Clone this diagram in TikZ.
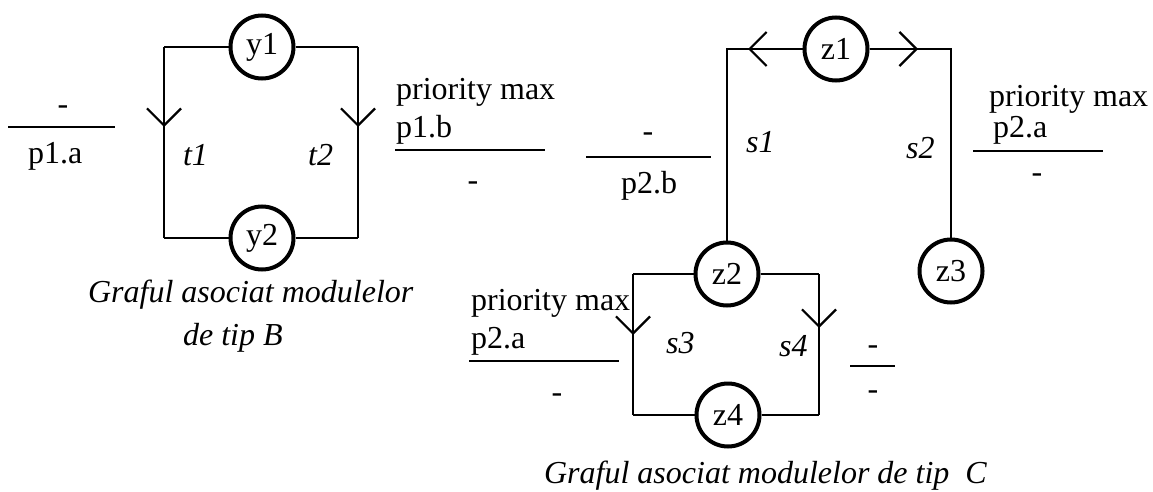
\documentclass[tikz,border=0pt]{standalone}
\usepackage{fontspec}
\setmainfont{Liberation Serif}
\usetikzlibrary{arrows.meta}

\tikzset{every picture/.style={line width=2.2pt}}
\tikzset{
  vtx/.style={draw,circle,line width=4pt,minimum size=63pt,inner sep=0pt,fill=white,font=\fontsize{32}{38}\selectfont},
  edge/.style={line width=2.2pt},
  barb/.style={line width=2.2pt,-{Straight Barb[length=17pt,width=34pt]}},
  bar/.style={line width=2.6pt},
  lbl/.style={anchor=base,inner sep=0pt,font=\fontsize{32}{38}\selectfont},
  lblw/.style={anchor=base west,inner sep=0pt,font=\fontsize{32}{38}\selectfont},
}

\begin{document}
\begin{tikzpicture}[x=1pt,y=1pt,yscale=-1,xscale=1]
\useasboundingbox (0,0) rectangle (1153,492);

%Shape: Graph B
\coordinate (b1) at (164,47);
\coordinate (b2) at (164,238);
\coordinate (b3) at (358,47);
\coordinate (b4) at (358,238);
\coordinate (t1m) at (164,127);
\coordinate (t2m) at (358,127);
\draw[edge] (b1) -- (b2);
\draw[edge] (b3) -- (b4);
\node[vtx] (y1) at (262,47) {y1};
\node[vtx] (y2) at (262,238) {y2};
\draw[edge] (y1) -- (b1);
\draw[edge] (y1) -- (b3);
\draw[edge] (y2) -- (b2);
\draw[edge] (y2) -- (b4);
\draw[barb] (b1) -- (t1m);
\draw[barb] (b3) -- (t2m);

% Text Node
\node[lblw] (t1) at (182,165) {\textit{t1}};
% Text Node
\node[lblw] (t2) at (307,165) {\textit{t2}};

%Shape: fraction left of B
\coordinate (fa1) at (8,127);
\coordinate (fa2) at (115,127);
\draw[bar] (fa1) -- (fa2);
% Text Node
\node[lbl] (fa3) at (63,114) {-};
% Text Node
\node[lblw] (fa4) at (27,163) {p1.a};

%Shape: fraction right of B
\coordinate (fb1) at (395,150);
\coordinate (fb2) at (545,150);
\draw[bar] (fb1) -- (fb2);
% Text Node
\node[lblw] (fb3) at (395,100) {priority max};
% Text Node
\node[lblw] (fb4) at (395,138) {p1.b};
% Text Node
\node[lbl] (fb5) at (473,190) {-};

% Text Node
\node[lblw] (capb1) at (87,302) {\textit{Graful asociat modulelor}};
% Text Node
\node[lblw] (capb2) at (182,345) {\textit{de tip B}};

%Shape: Graph C, upper part
\coordinate (c1) at (727,49);
\coordinate (c2) at (951,49);
\coordinate (s1m) at (748,49);
\coordinate (s2m) at (918,49);
\node[vtx] (z1) at (836,49) {z1};
\node[vtx] (z2) at (727,274) {z2};
\node[vtx] (z3) at (951,271) {z3};
\draw[edge] (z1) -- (c1) -- (z2);
\draw[edge] (z1) -- (c2) -- (z3);
\draw[barb] (z1) -- (s1m);
\draw[barb] (z1) -- (s2m);

% Text Node
\node[lblw] (s1) at (745,152) {\textit{s1}};
% Text Node
\node[lblw] (s2) at (905,158) {\textit{s2}};

%Shape: fraction left of s1
\coordinate (fc1) at (586,157);
\coordinate (fc2) at (711,157);
\draw[bar] (fc1) -- (fc2);
% Text Node
\node[lbl] (fc3) at (648,142) {-};
% Text Node
\node[lblw] (fc4) at (620,193) {p2.b};

%Shape: fraction right of s2
\coordinate (fd1) at (973,151);
\coordinate (fd2) at (1103,151);
\draw[bar] (fd1) -- (fd2);
% Text Node
\node[lblw] (fd3) at (988,107) {priority max};
% Text Node
\node[lblw] (fd4) at (992,137) {p2.a};
% Text Node
\node[lbl] (fd5) at (1037,182) {-};

%Shape: Graph C, lower part
\coordinate (d1) at (633,274);
\coordinate (d2) at (633,415);
\coordinate (d3) at (819,274);
\coordinate (d4) at (819,415);
\coordinate (s3m) at (633,335);
\coordinate (s4m) at (819,328);
\draw[edge] (d1) -- (d2);
\draw[edge] (d3) -- (d4);
\node[vtx] (z4) at (728,415) {z4};
\draw[edge] (z2) -- (d1);
\draw[edge] (z2) -- (d3);
\draw[edge] (z4) -- (d2);
\draw[edge] (z4) -- (d4);
\draw[barb] (d1) -- (s3m);
\draw[barb] (d3) -- (s4m);

% Text Node
\node[lblw] (s3) at (665,353) {\textit{s3}};
% Text Node
\node[lblw] (s4) at (778,356) {\textit{s4}};

%Shape: fraction left of s3
\coordinate (fe1) at (469,361);
\coordinate (fe2) at (619,361);
\draw[bar] (fe1) -- (fe2);
% Text Node
\node[lblw] (fe3) at (470,310) {priority max};
% Text Node
\node[lblw] (fe4) at (470,348) {p2.a};
% Text Node
\node[lbl] (fe5) at (557,402) {-};

%Shape: fraction right of s4
\coordinate (ff1) at (850,366);
\coordinate (ff2) at (895,366);
\draw[bar] (ff1) -- (ff2);
% Text Node
\node[lbl] (ff3) at (873,354) {-};
% Text Node
\node[lbl] (ff4) at (873,399) {-};

% Text Node
\node[lblw] (capc) at (543,483) {\textit{Graful asociat modulelor de tip\ \ C}};

\end{tikzpicture}
\end{document}
